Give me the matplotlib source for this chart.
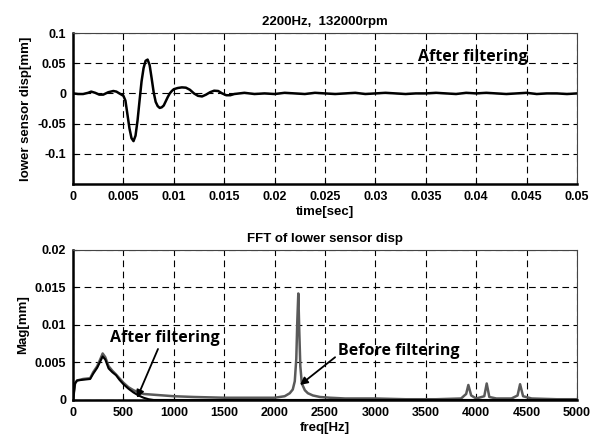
import matplotlib
matplotlib.use('Agg')
import matplotlib.pyplot as plt

# time signal after filtering (t in ms, disp in mm)
t_ms = [0.0, 0.5, 1.0, 1.5, 1.8, 2.2, 2.6, 3.0, 3.5, 4.0, 4.3, 4.6, 4.8, 5.0, 5.2, 5.4,
        5.6, 5.8, 6.0, 6.2, 6.4, 6.6, 6.8, 7.0, 7.2, 7.4, 7.6, 7.8, 8.0, 8.2, 8.4, 8.6,
        8.8, 9.0, 9.2, 9.4, 9.6, 9.8, 10.0, 10.4, 10.8, 11.2, 11.6, 12.0, 12.4, 12.8,
        13.2, 13.6, 14.0, 14.4, 14.8, 15.2, 15.6, 16.0, 17.0, 18.0, 19.0, 20.0, 21.0,
        22.0, 23.0, 24.0, 25.0, 26.0, 27.0, 28.0, 29.0, 30.0, 31.0, 32.0, 33.0, 34.0,
        35.0, 36.0, 37.0, 38.0, 39.0, 40.0, 41.0, 42.0, 43.0, 44.0, 45.0, 46.0, 47.0,
        48.0, 49.0, 50.0]
disp = [0.0, -0.001, -0.001, 0.001, 0.003, 0.001, -0.002, -0.002, 0.002, 0.004, 0.003,
        0.0, -0.002, -0.004, -0.012, -0.035, -0.058, -0.074, -0.079, -0.070, -0.045,
        -0.012, 0.020, 0.042, 0.054, 0.056, 0.047, 0.025, 0.002, -0.014, -0.021, -0.024,
        -0.023, -0.020, -0.013, -0.006, 0.0, 0.004, 0.007, 0.009, 0.010, 0.0095, 0.006,
        0.0, -0.004, -0.005, -0.002, 0.002, 0.0045, 0.004, 0.0, -0.003, -0.003, -0.001,
        0.001, -0.001, 0.0, -0.001, 0.001, 0.0, -0.001, 0.001, 0.0, -0.001, 0.0, 0.001,
        -0.001, 0.0, 0.001, 0.0, -0.001, 0.0, 0.0, 0.001, 0.0, -0.001, 0.001, 0.0,
        0.001, 0.0, -0.001, 0.0, 0.001, -0.001, 0.0, 0.0, -0.001, 0.0]

# FFT magnitudes (Hz, mm)
f_before = [0, 20, 40, 100, 170, 200, 240, 276, 294, 320, 353, 390, 427, 460, 500,
            550, 600, 650, 700, 800, 1000, 1200, 1500, 1800, 2000, 2100, 2150, 2180,
            2200, 2215, 2225, 2235, 2245, 2255, 2270, 2300, 2330, 2380, 2450, 2550,
            2700, 3000, 3300, 3600, 3850, 3900, 3922, 3950, 4000, 4080, 4104, 4130,
            4200, 4350, 4410, 4435, 4465, 4550, 4800, 5000]
m_before = [0.0, 0.0022, 0.0026, 0.0028, 0.0029, 0.0037, 0.0045, 0.0056, 0.0062,
            0.0057, 0.0045, 0.0039, 0.0034, 0.0029, 0.0023, 0.0017, 0.0013, 0.0010,
            0.0008, 0.0007, 0.0005, 0.0004, 0.0003, 0.0003, 0.0003, 0.0005, 0.0009,
            0.0014, 0.0025, 0.0055, 0.0105, 0.0142, 0.0090, 0.0045, 0.0022, 0.0013,
            0.0009, 0.0006, 0.0004, 0.0003, 0.0002, 0.0002, 0.0001, 0.0001, 0.0002,
            0.0008, 0.0020, 0.0006, 0.0002, 0.0005, 0.0022, 0.0004, 0.0002, 0.0002,
            0.0006, 0.0021, 0.0005, 0.0002, 0.0001, 0.0001]
f_after = [0, 20, 40, 100, 170, 200, 240, 276, 294, 320, 353, 390, 427, 460, 500,
           550, 600, 650, 700, 750, 800, 1000, 5000]
m_after = [0.0, 0.0022, 0.0026, 0.0027, 0.0028, 0.0035, 0.0043, 0.0053, 0.0058,
           0.0054, 0.0042, 0.0037, 0.0033, 0.0027, 0.0021, 0.0015, 0.0010, 0.0006,
           0.0003, 0.0001, 0.0, 0.0, 0.0]

bold = dict(fontfamily='Liberation Sans', fontweight='bold')
note = dict(fontfamily=['Open Sans', 'DejaVu Sans'], fontweight='bold', fontsize=11.5)
grid_style = dict(color='black', linestyle=(0, (6, 4)), linewidth=0.8)
arrow = dict(arrowstyle='-|>', color='black', lw=1.3, mutation_scale=11,
             shrinkA=0, shrinkB=0)


def style_axes(ax):
    ax.grid(True, **grid_style)
    ax.tick_params(direction='in', length=3, labelsize=9, pad=5)
    for lab in ax.get_xticklabels() + ax.get_yticklabels():
        lab.set_fontfamily('Liberation Sans')
        lab.set_fontweight('bold')
    for side in ['left', 'bottom']:
        ax.spines[side].set_linewidth(1.8)
    for side in ['top', 'right']:
        ax.spines[side].set_linewidth(0.8)
        ax.spines[side].set_color('#444444')


fig = plt.figure(figsize=(6, 4.38), dpi=100)

ax1 = fig.add_axes([0.1217, 0.5799, 0.84, 0.3447])
ax1.plot([v / 1000 for v in t_ms], disp, color='black', linewidth=1.8)
ax1.set_xlim(0, 0.05)
ax1.set_ylim(-0.15, 0.1)
ax1.set_xticks([0, 0.005, 0.01, 0.015, 0.02, 0.025, 0.03, 0.035, 0.04, 0.045, 0.05])
ax1.set_xticklabels(['0', '0.005', '0.01', '0.015', '0.02', '0.025', '0.03', '0.035',
                     '0.04', '0.045', '0.05'])
ax1.set_yticks([-0.1, -0.05, 0, 0.05, 0.1])
ax1.set_yticklabels(['-0.1', '-0.05', '0', '0.05', '0.1'])
style_axes(ax1)
ax1.set_title('2200Hz,  132000rpm', fontsize=9.5, pad=6, **bold)
ax1.set_xlabel('time[sec]', fontsize=9.5, labelpad=2, **bold)
ax1.set_ylabel('lower sensor disp[mm]', fontsize=9.5, labelpad=4, **bold)
ax1.text(0.0342, 0.06, 'After filtering', ha='left', va='center', **note)

ax2 = fig.add_axes([0.1217, 0.0868, 0.84, 0.3425])
ax2.plot(f_before, m_before, color='#5a5a5a', linewidth=1.8)
ax2.plot(f_after, m_after, color='black', linewidth=1.5)
ax2.set_xlim(0, 5000)
ax2.set_ylim(0, 0.02)
ax2.set_xticks(range(0, 5001, 500))
ax2.set_yticks([0, 0.005, 0.01, 0.015, 0.02])
ax2.set_yticklabels(['0', '0.005', '0.01', '0.015', '0.02'])
style_axes(ax2)
ax2.set_title('FFT of lower sensor disp', fontsize=9.5, pad=6, **bold)
ax2.set_xlabel('freq[Hz]', fontsize=9.5, labelpad=2, **bold)
ax2.set_ylabel('Mag[mm]', fontsize=9.5, labelpad=4, **bold)

ax2.text(367, 0.0082, 'After filtering', ha='left', va='center', **note)
ax2.annotate('', xy=(635, 0.00027), xytext=(843, 0.0068), arrowprops=arrow)
ax2.text(2630, 0.0065, 'Before filtering', ha='left', va='center', **note)
ax2.annotate('', xy=(2252, 0.002), xytext=(2600, 0.0057), arrowprops=arrow)

fig.savefig('out.png', dpi=100)
